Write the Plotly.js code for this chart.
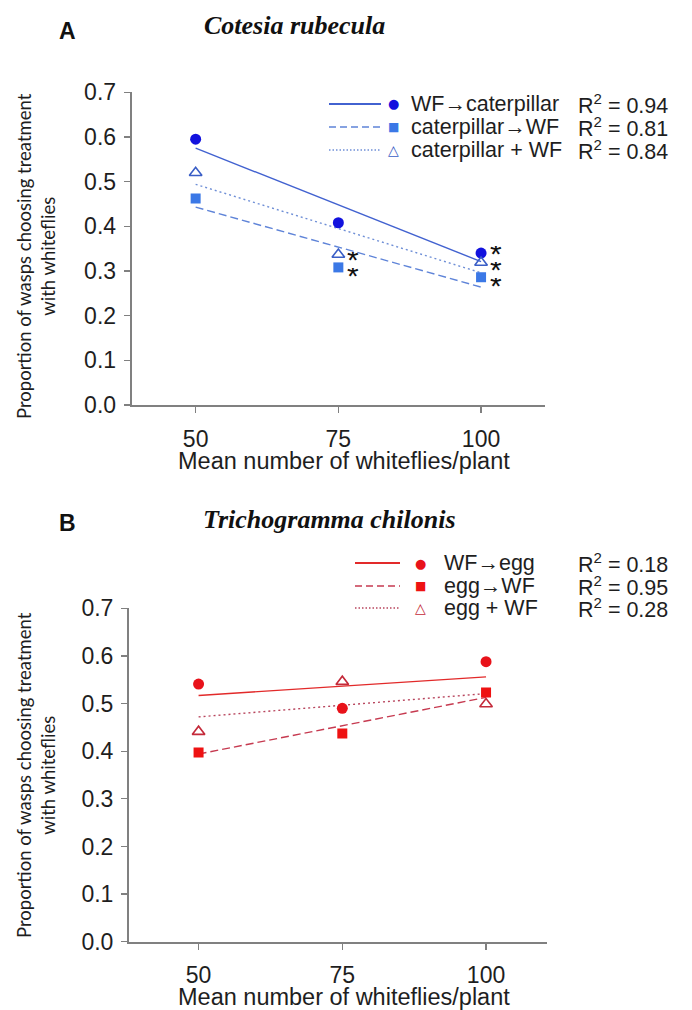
<!DOCTYPE html>
<html>
<head>
<meta charset="utf-8">
<script src="https://cdn.plot.ly/plotly-3.0.1.min.js"></script>
<style>html,body{margin:0;padding:0;background:#fff;}#chart{width:692px;height:1010px;}</style>
</head>
<body>
<div id="chart"></div>
<script>
// ---- data ----
var whitefliesX = [50, 75, 100];
var fitX = [50, 100];
var xTicks = [50, 75, 100];
var yTicks = [0, 0.1, 0.2, 0.3, 0.4, 0.5, 0.6, 0.7];
var yTickText = ['0.0', '0.1', '0.2', '0.3', '0.4', '0.5', '0.6', '0.7'];

// Panel A: Cotesia rubecula
var aWFtoCat = [0.595, 0.408, 0.340];
var aCatToWF = [0.462, 0.308, 0.286];
var aCatPlusWF = [0.520, 0.337, 0.319];
var aWFtoCatFit = [0.575, 0.321];
var aCatToWFFit = [0.443, 0.264];
var aCatPlusWFFit = [0.494, 0.296];
var aNames = ['WF\u2192caterpillar', 'caterpillar\u2192WF', 'caterpillar + WF'];
var aR2 = ['0.94', '0.81', '0.84'];
var aStarX = [75, 75, 100, 100, 100];
var aStarY = [0.343, 0.307, 0.356, 0.321, 0.284];

// Panel B: Trichogramma chilonis
var bWFtoEgg = [0.541, 0.490, 0.588];
var bEggToWF = [0.397, 0.437, 0.523];
var bEggPlusWF = [0.441, 0.546, 0.499];
var bWFtoEggFit = [0.517, 0.556];
var bEggToWFFit = [0.394, 0.513];
var bEggPlusWFFit = [0.472, 0.521];
var bNames = ['WF\u2192egg', 'egg\u2192WF', 'egg + WF'];
var bR2 = ['0.18', '0.95', '0.28'];

// ---- styling ----
var W = 692, H = 1010;
function px(x) { return x / W; }
function py(y) { return 1 - y / H; }
var blue = {c: '#1212de', s: '#3b78e6', t: '#3a5ec6', l1: '#4262d0', l2: '#5f84d8', l3: '#6f8fd6'};
var red = {c: '#e8121a', s: '#ee1212', t: '#c42a3a', l1: '#e22a2a', l2: '#c63a50', l3: '#b8465e'};

function fitTrace(y, color, dash, xa, ya) {
  return {x: fitX, y: y, mode: 'lines', type: 'scatter', xaxis: xa, yaxis: ya,
    line: {color: color, width: 1.4, dash: dash}, hoverinfo: 'skip', showlegend: false};
}
function ptTrace(y, sym, color, size, lw, xa, ya) {
  var open = sym.indexOf('open') >= 0;
  return {x: whitefliesX, y: y, mode: 'markers', type: 'scatter', xaxis: xa, yaxis: ya,
    marker: {symbol: sym, size: size, color: color, line: {color: color, width: open ? lw : 0}},
    showlegend: false};
}

var data = [
  fitTrace(aWFtoCatFit, blue.l1, 'solid', 'x', 'y'),
  fitTrace(aCatToWFFit, blue.l2, '8px,4px', 'x', 'y'),
  fitTrace(aCatPlusWFFit, blue.l3, '2px,3px', 'x', 'y'),
  ptTrace(aWFtoCat, 'circle', blue.c, 11, 0, 'x', 'y'),
  ptTrace(aCatToWF, 'square', blue.s, 10, 0, 'x', 'y'),
  ptTrace(aCatPlusWF, 'triangle-up-open', blue.t, 11, 1.6, 'x', 'y'),
  fitTrace(bWFtoEggFit, red.l1, 'solid', 'x2', 'y2'),
  fitTrace(bEggToWFFit, red.l2, '8px,4px', 'x2', 'y2'),
  fitTrace(bEggPlusWFFit, red.l3, '2px,3px', 'x2', 'y2'),
  ptTrace(bWFtoEgg, 'circle', red.c, 11, 0, 'x2', 'y2'),
  ptTrace(bEggToWF, 'square', red.s, 10, 0, 'x2', 'y2'),
  ptTrace(bEggPlusWF, 'triangle-up-open', red.t, 11, 1.6, 'x2', 'y2')
];

var tickFont = {family: 'Liberation Sans, Arial, sans-serif', size: 23, color: '#1e1e1e'};
function xAxis(domain, range, anchor) {
  return {domain: domain, range: range, anchor: anchor, tickmode: 'array', tickvals: xTicks,
    ticktext: xTicks.map(String), ticks: 'outside', ticklen: 6, tickwidth: 1.3, tickcolor: '#808080',
    showline: true, linecolor: '#808080', linewidth: 2, showgrid: false, zeroline: false,
    tickfont: tickFont, ticklabelstandoff: 6, fixedrange: true};
}
function yAxis(domain, anchor) {
  return {domain: domain, range: [0, 0.7], anchor: anchor, tickmode: 'array', tickvals: yTicks,
    ticktext: yTickText, ticks: 'outside', ticklen: 6, tickwidth: 1.3, tickcolor: '#808080',
    showline: true, linecolor: '#808080', linewidth: 2, showgrid: false, zeroline: false,
    tickfont: tickFont, ticklabelstandoff: 3, fixedrange: true};
}

var annotations = [];
var shapes = [];
function addText(x, y, text, font, xanchor, extra) {
  var a = {xref: 'paper', yref: 'paper', x: px(x), y: py(y), text: text, showarrow: false,
    font: font, xanchor: xanchor || 'center', yanchor: 'middle'};
  if (extra) for (var k in extra) a[k] = extra[k];
  annotations.push(a);
}

// Panel titles and letters
var titleFont = {family: 'Liberation Serif, Times New Roman, serif', size: 26, color: '#111'};
addText(294, 25, '<b><i>Cotesia rubecula</i></b>', titleFont);
addText(329, 519, '<b><i>Trichogramma chilonis</i></b>', titleFont);
addText(67, 31, '<b>A</b>', {family: 'Liberation Sans, Arial, sans-serif', size: 23, color: '#111'});
addText(67, 523, '<b>B</b>', {family: 'Liberation Sans, Arial, sans-serif', size: 23, color: '#111'});

// Axis titles
var axTitleFont = {family: 'Liberation Sans, Arial, sans-serif', size: 23.5, color: '#1e1e1e'};
var yTitleFont = {family: 'Lato, Open Sans, sans-serif', size: 18.5, color: '#1e1e1e'};
addText(344, 461, 'Mean number of whiteflies/plant', axTitleFont);
addText(344, 997, 'Mean number of whiteflies/plant', axTitleFont);
addText(36, 256, 'Proportion of wasps choosing treatment<br>with whiteflies', yTitleFont, 'center', {textangle: -90});
addText(36, 775, 'Proportion of wasps choosing treatment<br>with whiteflies', yTitleFont, 'center', {textangle: -90});

// Legends
var legFont = {family: 'Liberation Sans, Arial, sans-serif', size: 21.5, color: '#1e1e1e'};
var glyphs = ['\u25CF', '\u25A0', '\u25B3'];
var glyphSizes = [13, 12, 14];
function legend(rows, lx0, lx1, gx, tx, rx, names, r2, col) {
  var lineCols = [col.l1, col.l2, col.l3];
  var markCols = [col.c, col.s, col.t];
  var dashes = ['solid', '7px,4px', '1.5px,2px'];
  for (var i = 0; i < 3; i++) {
    shapes.push({type: 'line', xref: 'paper', yref: 'paper', x0: px(lx0), x1: px(lx1), y0: py(rows[i]), y1: py(rows[i]),
      line: {color: lineCols[i], width: i === 0 ? 2 : 1.6, dash: dashes[i]}});
    addText(gx, rows[i], glyphs[i], {family: 'DejaVu Sans, sans-serif', size: glyphSizes[i], color: markCols[i]});
    addText(tx, rows[i], names[i], legFont, 'left');
    addText(rx, rows[i], 'R<sup>2</sup> = ' + r2[i], legFont, 'left');
  }
}
legend([104, 127, 150], 329, 381, 393, 409, 576, aNames, aR2, blue);
legend([563, 586, 608], 355, 400, 420, 442, 576, bNames, bR2, red);

// Significance asterisks (panel A)
for (var i = 0; i < aStarX.length; i++) {
  annotations.push({xref: 'x', yref: 'y', x: aStarX[i], y: aStarY[i], text: '*', showarrow: false,
    xanchor: 'left', yanchor: 'middle', xshift: 7, yshift: -7, height: 14,
    font: {family: 'Liberation Sans, Arial, sans-serif', size: 30, color: '#111'}});
}

var layout = {
  width: W, height: H, margin: {l: 0, r: 0, t: 0, b: 0},
  paper_bgcolor: '#fff', plot_bgcolor: '#fff', showlegend: false,
  xaxis: xAxis([px(131.7), px(545)], [38.8, 111.2], 'y'),
  yaxis: yAxis([py(405), py(92.3)], 'x'),
  xaxis2: xAxis([px(129), px(547)], [37.9, 110.6], 'y2'),
  yaxis2: yAxis([py(941.7), py(608.3)], 'x2'),
  annotations: annotations, shapes: shapes
};

Plotly.newPlot('chart', data, layout, {displayModeBar: false, staticPlot: true});
</script>
</body>
</html>
